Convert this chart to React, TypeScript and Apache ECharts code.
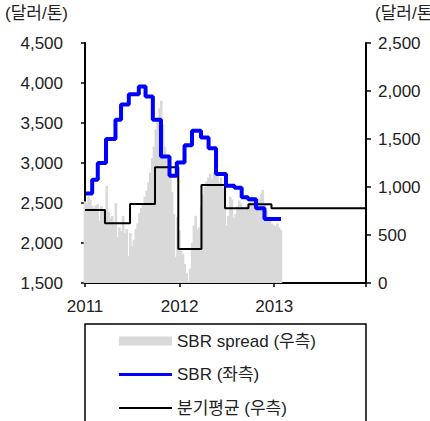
import React, { useEffect, useRef } from "react";
import * as echarts from "echarts";

// Weekly SBR spread (right axis, $/ton), starting first week of 2011
const spreadStartYear = 2011;
const spreadValues = [
  850, 830, 900, 870, 800, 780, 810, 820, 650, 800,
  760, 700, 1010, 740, 680, 700, 620, 830, 480, 580,
  540, 700, 520, 560, 280, 520, 380, 450, 560, 620,
  730, 780, 830, 900, 960, 1050, 1150, 1300, 1420, 1600,
  1700, 1820, 1900, 1650, 1420, 1300, 1200, 1100, 950, 720,
  270, 690, 550, 340, 300, 200, 100, 20, 150, 420,
  600, 700, 560, 580, 800, 920, 1000, 1060, 1100, 1140,
  1080, 1150, 1200, 1120, 1050, 1100, 1000, 780, 600, 700,
  900, 870, 680, 720, 800, 860, 830, 790, 760, 800,
  830, 880, 900, 870, 840, 820, 880, 930, 970, 820,
  760, 690, 650, 620, 600, 590, 620, 580, 550,
];

// SBR price (left axis), step starts in fractional years
const sbrDates = [
  2011.01, 2011.076, 2011.135, 2011.222, 2011.322, 2011.381, 2011.463, 2011.569,
  2011.64, 2011.717, 2011.803, 2011.893, 2011.97, 2012.052, 2012.131, 2012.226,
  2012.306, 2012.385, 2012.49, 2012.58, 2012.656, 2012.723, 2012.808, 2012.897, 2013.072,
];
const sbrValues = [
  2620, 2790, 3000, 3300, 3540, 3730, 3860, 3955,
  3830, 3540, 3080, 2840, 3005, 3222, 3404, 3320,
  3183, 2863, 2715, 2692, 2571, 2546, 2433, 2300, 2300,
];

// Quarterly average spread (right axis)
const qtrDates = [2011.0, 2011.211, 2011.476, 2011.74, 2011.986, 2012.231, 2012.48, 2012.728, 2012.971, 2013.97];
const qtrValues = [760, 622, 823, 1205, 354, 1021, 778, 820, 778, 778];

const xTickYears = [2011, 2012, 2013];

const FONT = "'Liberation Sans', 'Noto Sans CJK KR', sans-serif";
const TXT = "#222";

export default function App() {
  const ref = useRef<HTMLDivElement>(null);
  useEffect(() => {
    if (!ref.current) return;
    const chart = echarts.init(ref.current, null, { renderer: "svg" });
    const WEEK = 7 / 365;
    const spreadData = spreadValues.map((v, i) => [spreadStartYear + i * WEEK, v]);
    const sbrData = sbrDates.map((d, i) => [d, sbrValues[i]]);
    const qtrData = qtrDates.map((d, i) => [d, qtrValues[i]]);
    const fmtNum = (v: number) => v.toLocaleString("en-US");
    chart.setOption({
      animation: false,
      textStyle: { fontFamily: FONT },
      grid: { left: 85, right: 64, top: 43, bottom: 138 },
      xAxis: {
        type: "value",
        min: 2011,
        max: 2013.97,
        interval: 1,
        axisLine: { lineStyle: { color: "#000", width: 2 } },
        axisTick: { show: true, length: 4, lineStyle: { color: "#000", width: 1.5 } },
        splitLine: { show: false },
        axisLabel: {
          margin: 15,
          fontSize: 17,
          color: TXT,
          fontFamily: FONT,
          formatter: (v: number) => {
            const r = Math.round(v);
            return Math.abs(v - r) < 1e-6 && xTickYears.includes(r) ? String(r) : "";
          },
        },
      },
      yAxis: [
        {
          type: "value",
          position: "left",
          min: 1500,
          max: 4500,
          interval: 500,
          axisLine: { show: true, lineStyle: { color: "#000", width: 2 } },
          axisTick: { show: true, length: 4, lineStyle: { color: "#000", width: 1.5 } },
          splitLine: { show: false },
          axisLabel: { margin: 22, fontSize: 17, color: TXT, fontFamily: FONT, formatter: fmtNum, padding: [8, 0, 0, 0] },
        },
        {
          type: "value",
          position: "right",
          min: 0,
          max: 2500,
          interval: 500,
          axisLine: { show: true, lineStyle: { color: "#000", width: 2 } },
          axisTick: { show: true, length: 5, lineStyle: { color: "#000", width: 1.5 } },
          splitLine: { show: false },
          axisLabel: { margin: 12, fontSize: 17, color: TXT, fontFamily: FONT, formatter: fmtNum, padding: [8, 0, 0, 0] },
        },
      ],
      legend: {
        orient: "vertical",
        left: 119,
        top: 331,
        padding: 0,
        itemWidth: 53,
        itemHeight: 9,
        itemGap: 13.5,
        symbolKeepAspect: true,
        textStyle: { fontSize: 17, color: TXT, fontFamily: FONT, lineHeight: 20 },
        data: [
          { name: "SBR spread (우측)", icon: "rect" },
          { name: "SBR (좌측)", icon: "path://M0,0H53V3H0Z" },
          { name: "분기평균 (우측)", icon: "path://M0,0H53V2H0Z" },
        ],
      },
      graphic: [
        {
          type: "rect",
          shape: { x: 85, y: 324, width: 281, height: 120 },
          style: { fill: "none", stroke: "#000", lineWidth: 1.5 },
          silent: true,
        },
        {
          type: "text",
          x: 5,
          y: 13,
          style: { text: "(달러/톤)", fill: TXT, font: `17px ${FONT}`, verticalAlign: "middle" },
        },
        {
          type: "text",
          x: 375,
          y: 13,
          style: { text: "(달러/톤)", fill: TXT, font: `17px ${FONT}`, verticalAlign: "middle" },
        },
      ],
      series: [
        {
          name: "SBR spread (우측)",
          type: "bar",
          yAxisIndex: 1,
          barWidth: 2.6,
          itemStyle: { color: "#d9d9d9" },
          data: spreadData,
          z: 1,
        },
        {
          name: "분기평균 (우측)",
          type: "line",
          yAxisIndex: 1,
          step: "end",
          symbol: "none",
          lineStyle: { color: "#000", width: 2 },
          itemStyle: { color: "#000" },
          data: qtrData,
          z: 2,
        },
        {
          name: "SBR (좌측)",
          type: "line",
          yAxisIndex: 0,
          step: "end",
          symbol: "none",
          lineStyle: { color: "#0000ff", width: 4 },
          itemStyle: { color: "#0000ff" },
          data: sbrData,
          z: 3,
        },
      ],
    });
    return () => chart.dispose();
  }, []);
  return (
    <div
      ref={ref}
      style={{ position: "fixed", left: 0, top: 0, width: 430, height: 421, background: "#fff" }}
    />
  );
}
